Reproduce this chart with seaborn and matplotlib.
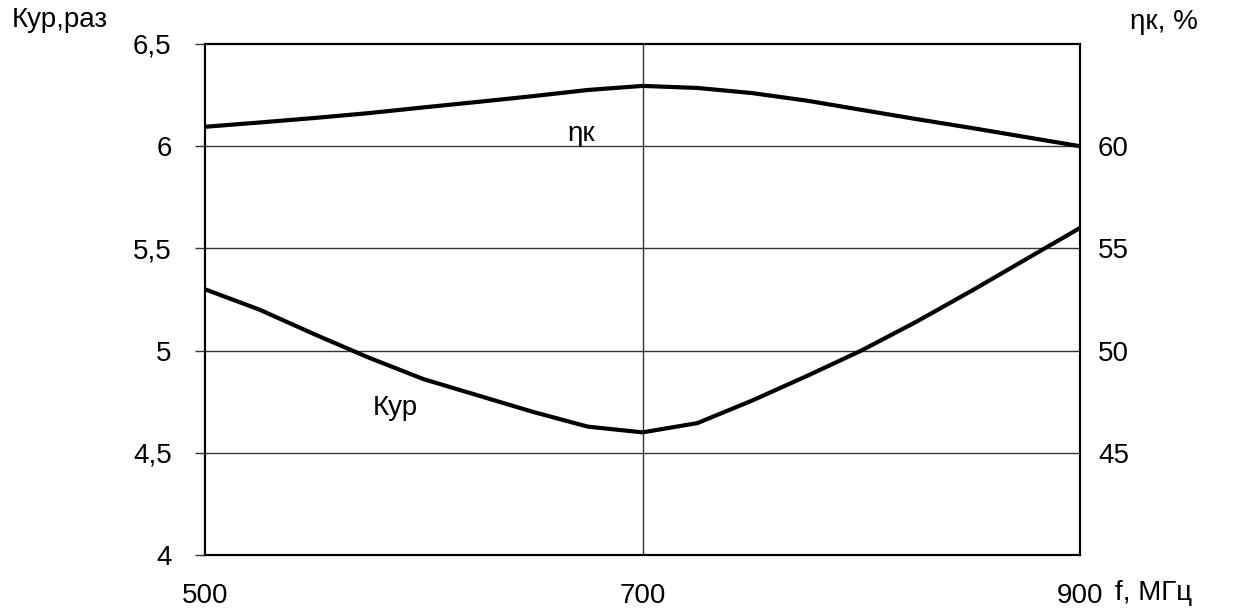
import matplotlib
matplotlib.use("Agg")
import matplotlib.pyplot as plt
import seaborn as sns
import pandas as pd

# Data
freq = [500, 525, 550, 575, 600, 625, 650, 675, 700, 725, 750, 775, 800, 825, 850, 875, 900]
kyp = [5.30, 5.20, 5.08, 4.965, 4.86, 4.78, 4.70, 4.628, 4.60, 4.645, 4.755, 4.875, 5.00, 5.14, 5.29, 5.445, 5.60]
eta = [60.95, 61.16, 61.38, 61.62, 61.9, 62.17, 62.45, 62.75, 62.95, 62.85, 62.6, 62.23, 61.78, 61.33, 60.9, 60.45, 60.0]

x_ticks = [500, 700, 900]
left_ticks = [4, 4.5, 5, 5.5, 6, 6.5]
left_labels = ["4", "4,5", "5", "5,5", "6", "6,5"]
right_ticks = [45, 50, 55, 60]
right_labels = ["45", "50", "55", "60"]

df = pd.DataFrame({"f": freq, "kyp": kyp, "eta": eta})

sns.set_theme(style="white")
plt.rcParams["font.family"] = ["Liberation Sans", "DejaVu Sans"]
plt.rcParams["text.color"] = "black"
plt.rcParams["xtick.color"] = "black"
plt.rcParams["ytick.color"] = "black"

fig = plt.figure(figsize=(12.37, 6.08), dpi=100)
ax = fig.add_axes([205 / 1237, 1 - 555 / 608, (1080 - 205) / 1237, (555 - 44) / 608])
ax2 = ax.twinx()

sns.lineplot(data=df, x="f", y="kyp", ax=ax, color="black", linewidth=3.0)
sns.lineplot(data=df, x="f", y="eta", ax=ax2, color="black", linewidth=3.0)
for a in (ax, ax2):
    for ln in a.get_lines():
        ln.set_solid_joinstyle("round")
        ln.set_solid_capstyle("round")

ax.set_xlim(500, 900)
ax.set_ylim(4, 6.5)
ax2.set_ylim(40, 65)

ax.set_xticks(x_ticks)
ax.set_xticklabels([str(v) for v in x_ticks], fontsize=20, color="black")
ax.set_yticks(left_ticks)
ax.set_yticklabels(left_labels, fontsize=20, color="black")
ax2.set_yticks(right_ticks)
ax2.set_yticklabels(right_labels, fontsize=20, color="black")

ax.set_xlabel("")
ax.set_ylabel("")
ax2.set_ylabel("")

# grid
for yv in [4.5, 5, 5.5, 6]:
    ax.axhline(yv, color="#333333", linewidth=1.0, zorder=0)
ax.axvline(700, color="#333333", linewidth=1.0, zorder=0)

ax.tick_params(axis="x", direction="out", length=7, width=1.0, color="#333333", pad=13)
ax.tick_params(axis="y", direction="out", length=7, width=1.0, color="#333333", pad=17)
ax2.tick_params(axis="y", length=0, pad=13)

for a in (ax, ax2):
    for s in a.spines.values():
        s.set_color("black")
        s.set_linewidth(1.5)
        s.set_visible(True)

# curve labels
ax.text(672, 6.06, "ηк", fontsize=20, ha="center", va="center", color="black")
ax.text(587, 4.72, "Кур", fontsize=20, ha="center", va="center", color="black")

# axis titles
fig.text(12 / 1237, 1 - 20 / 608, "Кур,раз", fontsize=20, ha="left", va="center", color="black")
fig.text(1130 / 1237, 1 - 22 / 608, "ηк, %", fontsize=20, ha="left", va="center", color="black")
fig.text(1115 / 1237, 1 - 593 / 608, "f, МГц", fontsize=20, ha="left", va="center", color="black")

fig.savefig("out.png", dpi=100)
